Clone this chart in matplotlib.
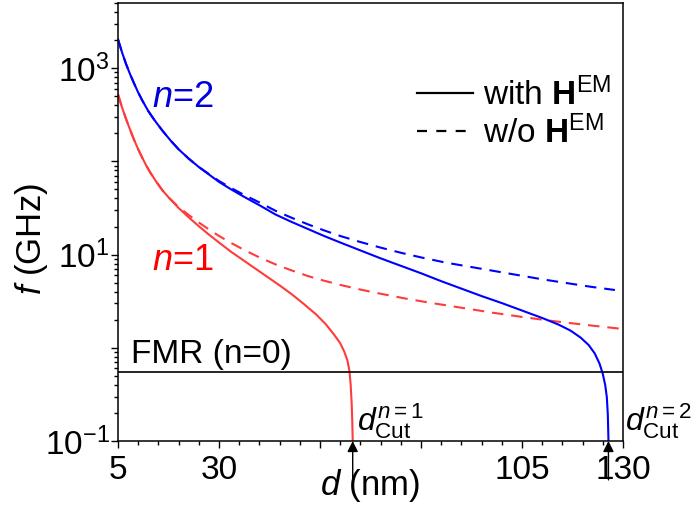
import numpy as np
import matplotlib
matplotlib.use('Agg')
import matplotlib.pyplot as plt
from matplotlib.ticker import FixedLocator, LogLocator, MultipleLocator, NullFormatter
from matplotlib.lines import Line2D

plt.rcParams['font.family'] = ['Liberation Sans', 'DejaVu Sans']
plt.rcParams['mathtext.fontset'] = 'custom'
plt.rcParams['mathtext.rm'] = 'Liberation Sans'
plt.rcParams['mathtext.it'] = 'Liberation Sans:italic'
plt.rcParams['mathtext.bf'] = 'Liberation Sans:bold'

# values: d in nm, log10 of f in GHz

# n=1, with H^EM (solid)
d_n1 = [5.0, 6.0, 7.0, 8.0, 9.0, 10.0, 11.0, 12.0, 13.0, 14.5, 16.0, 17.5,
        20.0, 22.5, 25.0, 27.5, 30.0, 33.0, 36.0, 39.0, 42.0, 45.0, 48.0,
        51.0, 54.0, 56.5, 58.5, 60.0, 61.0, 61.8, 62.3, 62.6, 62.85, 63.0,
        63.1, 63.15]
logf_n1 = [2.72, 2.58, 2.455, 2.34, 2.23, 2.13, 2.04, 1.955, 1.88, 1.78, 1.69, 1.615,
           1.50, 1.40, 1.305, 1.215, 1.13, 1.03, 0.94, 0.85, 0.76, 0.67, 0.575,
           0.47, 0.36, 0.25, 0.14, 0.05, -0.04, -0.137, -0.25, -0.40, -0.60, -0.80,
           -1.0, -1.1]

# n=1, w/o H^EM (dashed)
d_n1_wo = [5.0, 6.0, 7.0, 8.0, 9.0, 10.0, 11.0, 12.0, 13.0, 14.5, 16.0, 17.5,
           20.0, 22.5, 25.0, 27.5, 30.0, 33.0, 36.0, 40.0, 44.0, 48.0, 52.0,
           56.0, 60.0, 65.0, 70.0, 76.0, 82.0, 90.0, 98.0, 106.0, 114.0, 122.0,
           129.3]
logf_n1_wo = [2.72, 2.58, 2.455, 2.34, 2.23, 2.13, 2.04, 1.955, 1.88, 1.78, 1.69, 1.615,
              1.51, 1.425, 1.345, 1.27, 1.20, 1.125, 1.055, 0.97, 0.895, 0.83, 0.77,
              0.72, 0.675, 0.625, 0.58, 0.53, 0.485, 0.43, 0.375, 0.325, 0.28, 0.24,
              0.205]

# n=2, with H^EM (solid)
d_n2 = [5.0, 6.0, 7.0, 8.0, 9.0, 10.0, 11.0, 12.5, 14.0, 16.0, 18.0, 20.0,
        22.5, 25.0, 27.5, 30.0, 33.0, 36.0, 40.0, 44.0, 48.0, 52.0, 56.0,
        60.0, 65.0, 70.0, 75.0, 80.0, 85.0, 90.0, 95.0, 100.0, 105.0, 110.0,
        114.0, 117.0, 119.5, 121.5, 123.0, 124.2, 125.0, 125.6, 126.0, 126.25,
        126.4, 126.45]
logf_n2 = [3.31, 3.17, 3.045, 2.935, 2.835, 2.74, 2.655, 2.54, 2.445, 2.33, 2.225, 2.13,
           2.03, 1.94, 1.86, 1.78, 1.70, 1.625, 1.53, 1.43, 1.35, 1.275, 1.20,
           1.13, 1.045, 0.96, 0.88, 0.80, 0.715, 0.635, 0.555, 0.48, 0.40, 0.32,
           0.25, 0.185, 0.11, 0.03, -0.06, -0.17, -0.28, -0.40, -0.53, -0.72,
           -0.99, -1.1]

# n=2, w/o H^EM (dashed)
d_n2_wo = [5.0, 6.0, 7.0, 8.0, 9.0, 10.0, 11.0, 12.5, 14.0, 16.0, 18.0, 20.0,
           22.5, 25.0, 27.5, 30.0, 33.0, 36.0, 40.0, 44.0, 48.0, 52.0, 56.0,
           60.0, 65.0, 70.0, 75.0, 80.0, 86.0, 92.0, 98.0, 104.0, 110.0, 116.0,
           122.0, 128.0]
logf_n2_wo = [3.31, 3.17, 3.045, 2.935, 2.835, 2.74, 2.655, 2.54, 2.445, 2.33, 2.225, 2.13,
              2.03, 1.94, 1.865, 1.79, 1.715, 1.645, 1.56, 1.47, 1.395, 1.325, 1.26,
              1.20, 1.135, 1.075, 1.02, 0.97, 0.915, 0.87, 0.825, 0.78, 0.735, 0.695,
              0.655, 0.62]

f_fmr = 0.55
d_cut = [63.1, 126.4]
cut_labels = [r'$d_{\mathrm{Cut}}^{n\mathrm{=1}}$', r'$d_{\mathrm{Cut}}^{n\mathrm{=2}}$']

xticks = [5, 30, 55, 80, 105, 130]
xticklabels = ['5', '30', '', '', '105', '130']
yticks = [0.1, 1, 10, 100, 1000]
yticklabels = [r'$10^{-1}$', '', r'$10^{1}$', '', r'$10^{3}$']

red = '#ff3b3b'
blue = '#0000ff'

fig = plt.figure(figsize=(6.96, 5.05), dpi=100)
ax = fig.add_axes([0.1695, 0.1267, 0.7256, 0.8673])
ax.set_yscale('log')

ax.plot(d_n1, np.power(10.0, logf_n1), color=red, lw=1.5)
ax.plot(d_n1_wo, np.power(10.0, logf_n1_wo), color=red, lw=1.5, dashes=(5.5, 3.8))
ax.plot(d_n2, np.power(10.0, logf_n2), color=blue, lw=1.5)
ax.plot(d_n2_wo, np.power(10.0, logf_n2_wo), color=blue, lw=1.5, dashes=(5.5, 3.8))
ax.axhline(f_fmr, color='k', lw=1.2)

ax.set_xlim(5, 130)
ax.set_ylim(0.1, 5000)
ax.xaxis.set_major_locator(FixedLocator(xticks))
ax.set_xticklabels(xticklabels)
ax.xaxis.set_minor_locator(MultipleLocator(5))
ax.yaxis.set_major_locator(FixedLocator(yticks))
ax.set_yticklabels(yticklabels)
ax.yaxis.set_minor_locator(LogLocator(base=10, subs=np.arange(2, 10)))
ax.yaxis.set_minor_formatter(NullFormatter())

ax.tick_params(which='both', direction='out', top=False, right=False,
               width=1.0, labelsize=24)
ax.tick_params(which='major', length=5, pad=1)
ax.tick_params(which='minor', length=3)
ax.tick_params(axis='x', which='major', pad=5)
for s in ax.spines.values():
    s.set_linewidth(1.1)

ax.set_xlabel(r'$d$ (nm)', fontsize=25)
ax.xaxis.set_label_coords(0.5, -0.06)
ax.set_ylabel(r'$f$ (GHz)', fontsize=25)
ax.yaxis.set_label_coords(-0.135, 0.46)

ax.text(13.4, 480, r'$n$=2', color='#0000dd', fontsize=26, va='center')
ax.text(13.4, 8.6, r'$n$=1', color='#ff0000', fontsize=26, va='center')
ax.text(8.2, 0.68, 'FMR (n=0)', fontsize=24, va='baseline')

# cut-off thickness markers below the axis
offsets = [(3, 0), (12, 0)]
for dc, lab, off in zip(d_cut, cut_labels, offsets):
    ax.annotate('', xy=(dc, 0.1), xycoords='data',
                xytext=(0, -28), textcoords='offset points',
                arrowprops=dict(arrowstyle='-|>', color='k', lw=1.0,
                                mutation_scale=16, shrinkA=0, shrinkB=0),
                annotation_clip=False)
    ax.annotate(lab, xy=(dc, 0.1), xytext=off, textcoords='offset points',
                fontsize=23, ha='left', va='bottom', annotation_clip=False)

handles = [Line2D([], [], color='k', lw=1.6),
           Line2D([], [], color='k', lw=1.6, dashes=(4.5, 4.2))]
labels = [r'with $\mathbf{H}^{\mathrm{EM}}$', r'w/o $\mathbf{H}^{\mathrm{EM}}$']
ax.legend(handles, labels, loc='upper left', bbox_to_anchor=(0.592, 0.83),
          frameon=False, fontsize=24, handlelength=1.67, handletextpad=0.3,
          labelspacing=0.1, borderpad=0, borderaxespad=0)

fig.savefig('out.png', dpi=100)
